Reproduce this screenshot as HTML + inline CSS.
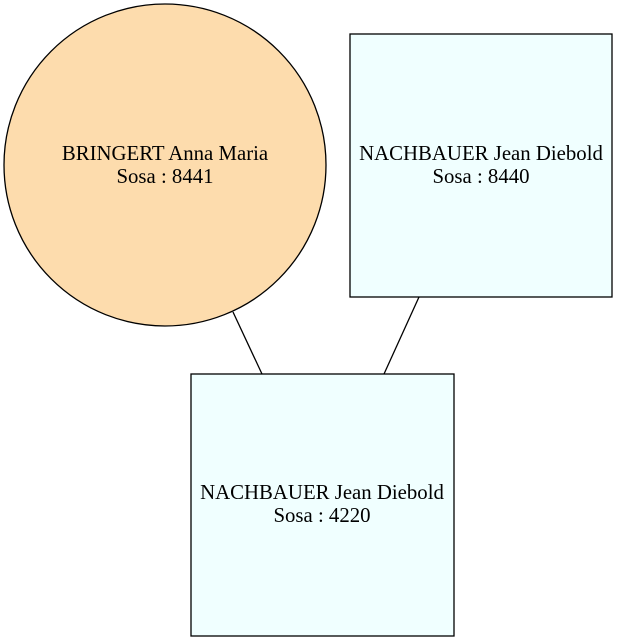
<!DOCTYPE html>
<html><head><style>body{margin:0;background:#fff}svg{display:block}</style></head>
<body>
<svg width="618" height="642" viewBox="0 0 618 642" xmlns="http://www.w3.org/2000/svg" font-family="Liberation Serif, serif" font-size="20.8">
<rect width="618" height="642" fill="#fff"/>
<line x1="233" y1="312" x2="262" y2="374" stroke="#000" stroke-width="1.3"/>
<line x1="419" y1="297" x2="384" y2="374" stroke="#000" stroke-width="1.3"/>
<circle cx="165" cy="165" r="161" fill="#fddcad" stroke="#000" stroke-width="1.3"/>
<rect x="350" y="34" width="262" height="263" fill="#f0ffff" stroke="#000" stroke-width="1.3"/>
<rect x="191" y="374" width="263" height="262" fill="#f0ffff" stroke="#000" stroke-width="1.3"/>
<g text-anchor="middle">
<text x="165" y="160">BRINGERT Anna Maria</text>
<text x="165" y="183">Sosa : 8441</text>
<text x="481" y="160">NACHBAUER Jean Diebold</text>
<text x="481" y="183">Sosa : 8440</text>
<text x="322" y="499">NACHBAUER Jean Diebold</text>
<text x="322" y="522">Sosa : 4220</text>
</g>
</svg>
</body></html>
